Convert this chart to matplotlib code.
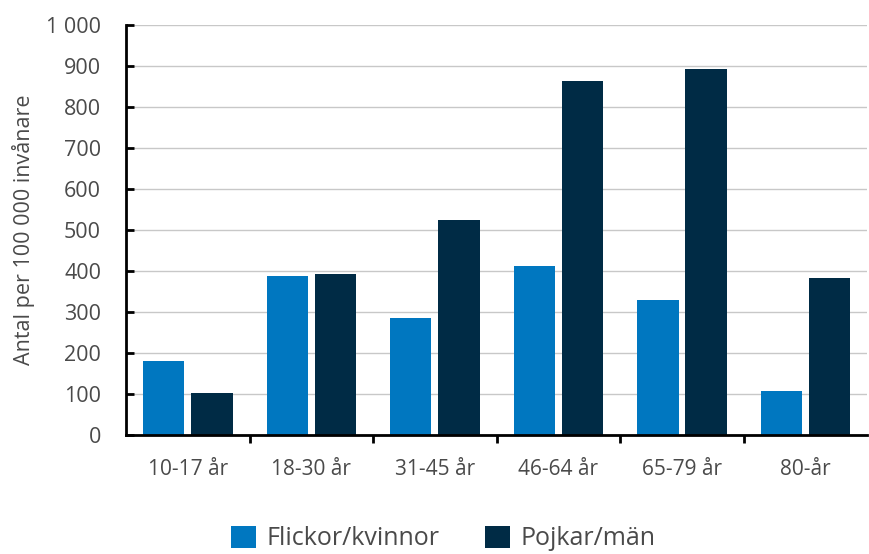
import numpy as np
import matplotlib.pyplot as plt
from matplotlib.ticker import FuncFormatter, FixedLocator

plt.rcParams['font.family'] = ['Open Sans', 'DejaVu Sans']

age_groups = ['10-17 år', '18-30 år', '31-45 år', '46-64 år', '65-79 år', '80-år']
flickor = [180, 388, 285, 412, 329, 107]
pojkar = [102, 393, 524, 862, 893, 383]

blue = '#0077c0'
navy = '#002b45'
textcol = '#4a4a4a'

fig = plt.figure(figsize=(8.69, 5.54), dpi=100)
ax = fig.add_axes([0.145, 0.2148, 0.853, 0.7406])

x = np.arange(len(age_groups))
w = 0.335
ax.bar(x - 0.195, flickor, w, color=blue, label='Flickor/kvinnor', zorder=3)
ax.bar(x + 0.195, pojkar, w, color=navy, label='Pojkar/män', zorder=3)

ax.set_xlim(-0.5, len(age_groups) - 0.5)
ax.set_ylim(0, 1000)
ax.set_yticks(np.arange(0, 1001, 100))
ax.yaxis.set_major_formatter(FuncFormatter(lambda v, p: f'{int(v):,}'.replace(',', ' ')))
ax.grid(axis='y', color='#c8c8c8', linewidth=1, zorder=0)

ax.set_xticks(x)
ax.set_xticklabels(age_groups)
ax.xaxis.set_minor_locator(FixedLocator(np.arange(0.5, len(age_groups) - 0.5, 1)))
ax.tick_params(axis='x', which='major', length=0, pad=17, labelsize=15, labelcolor=textcol)
ax.tick_params(axis='x', which='minor', length=6, width=2, direction='out', color='black')
ax.tick_params(axis='y', length=6, width=2, direction='in', pad=18, labelsize=15.5, labelcolor=textcol)

for s in ['top', 'right']:
    ax.spines[s].set_visible(False)
for s in ['left', 'bottom']:
    ax.spines[s].set_linewidth(2)
    ax.spines[s].set_zorder(4)

ax.set_ylabel('Antal per 100 000 invånare', fontsize=15.5, color=textcol, labelpad=8)

fig.legend(loc='lower center', bbox_to_anchor=(0.51, -0.036), ncol=2, frameon=False,
           fontsize=18, handlelength=1.0, handleheight=1.0, columnspacing=1.85,
           handletextpad=0.42, labelcolor=textcol)

fig.savefig('out.png', dpi=100)
